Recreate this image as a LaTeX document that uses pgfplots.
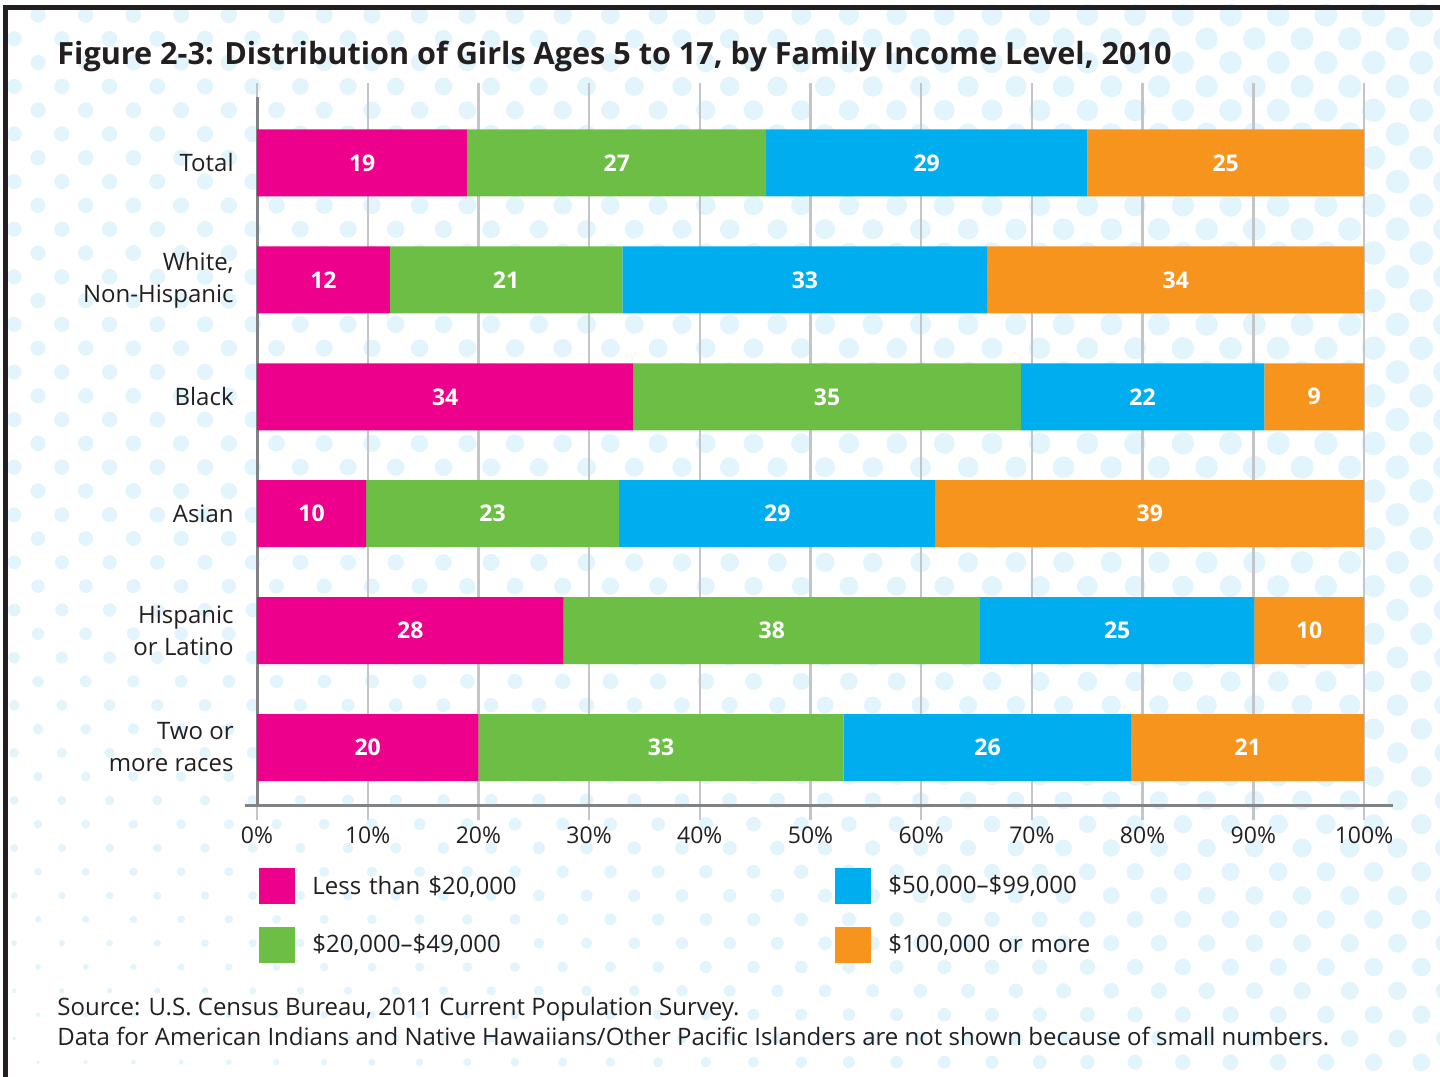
\documentclass[border=0pt]{standalone}
\usepackage{pgfplots}
\pgfplotsset{compat=1.18}
\usepackage{pgfplotstable}
\usepackage{fontspec}
\setmainfont{Open Sans}

\definecolor{cmag}{HTML}{EC008C}
\definecolor{cgreen}{HTML}{6DBE45}
\definecolor{ccyan}{HTML}{00AEEF}
\definecolor{corange}{HTML}{F7941D}
\definecolor{gridgray}{HTML}{C4C5C8}
\definecolor{axisgray}{HTML}{808285}
\definecolor{txt}{HTML}{231F20}
\definecolor{dotc}{HTML}{E3F5FC}

\pgfplotstableread{
y a la b lb c lc d ld
5 19 19 27 27 29 29 25 25
4 12 12 21 21 33 33 34 34
3 34 34 35 35 22 22 9 9
2 9.85 10 22.85 23 28.6 29 38.7 39
1 27.7 28 37.6 38 24.8 25 9.9 10
0 20 20 33 33 26 26 21 21
}\data

\begin{document}
\begin{tikzpicture}
\begin{scope}[x=0.5pt,y=0.5pt]
\path (0,0) rectangle (1440,1076);
\begin{scope}
\clip (0,0) rectangle (1440,1076);
\foreach \r in {0,...,45}{
  \foreach \c in {0,...,31}{
    \pgfmathsetmacro{\px}{38 + \c*47.7 - mod(\r,2)*23.85}
    \pgfmathsetmacro{\py}{15+\r*23.8}
    \pgfmathsetmacro{\X}{\px/1440}
    \pgfmathsetmacro{\B}{max(0,(\py-500)/576)}
    \pgfmathsetmacro{\rad}{max(0.8,(15+9*\X-12*(1-0.5*\X)*\B)/2)}
    \fill[dotc] (\px,1076-\py) circle[radius=\rad];
  }
}
\end{scope}
\draw[txt, line width=2.5pt] (5.5,-10) -- (5.5,1068.5) -- (1450,1068.5);

\node[anchor=base west, inner sep=0pt, text=txt, font=\bfseries\fontsize{15.3}{18}\selectfont] at (57,1011) {Figure 2-3: Distribution of Girls Ages 5 to 17, by Family Income Level, 2010};

\node[anchor=base west, inner sep=0pt, text=txt, font=\fontsize{12}{14}\selectfont] at (57,61) {Source: U.S. Census Bureau, 2011 Current Population Survey.};
\node[anchor=base west, inner sep=0pt, text=txt, font=\fontsize{12}{14}\selectfont] at (57,30) {Data for American Indians and Native Hawaiians/Other Pacific Islanders are not shown because of small numbers.};
\end{scope}

\begin{axis}[
  at={(128.5pt,135pt)}, anchor=south west,
  scale only axis, width=553.5pt, height=354.25pt,
  xbar stacked, bar width=33.5pt,
  xmin=0, xmax=100, ymin=-0.5, ymax=5.56,
  clip=false,
  axis line style={draw=none},
  tick align=outside,
  xtick={0,10,...,100},
  xticklabel={\pgfmathprintnumber{\tick}\%},
  /pgf/number format/assume math mode=true,
  xticklabel style={text=txt, font=\fontsize{11.5}{14}\selectfont},
  x tick style={color=gridgray, line width=1.2pt},
  major tick length=7pt,
  xmajorgrids, grid style={color=gridgray, line width=1.2pt},
  ytick={0,...,5},
  yticklabels={{Two or\\more races},{Hispanic\\or Latino},Asian,Black,{White,\\Non-Hispanic},Total},
  yticklabel style={align=right, text=txt, font=\fontsize{12}{16}\selectfont, inner xsep=0pt, xshift=-4.5pt},
  y tick style={draw=none},
  extra y ticks={0.5,1.5,2.5,3.5,4.5,5.5},
  extra y tick labels={},
  extra y tick style={grid=none, tick style={draw=axisgray, line width=1.5pt}, major tick length=6pt},
  nodes near coords,
  point meta=explicit symbolic,
  every node near coord/.append style={anchor=center, text=white, font=\bfseries\fontsize{11.5}{14}\selectfont},
  legend columns=2, transpose legend,
  legend image code/.code={\fill[#1] (0pt,-9pt) rectangle (18pt,9pt);},
  legend style={at={(0.0018,-0.0875)}, anchor=north west, draw=none, fill=none, inner sep=0pt,
     column sep=8.5pt, row sep=11.5pt, font=\fontsize{12}{15}\selectfont, text=txt,
     nodes={inner sep=0pt, text width=253pt, align=left}},
]
\addplot[fill=cmag, draw=none] table[x=a, y=y, meta=la] \data;
\addplot[fill=cgreen, draw=none] table[x=b, y=y, meta=lb] \data;
\addplot[fill=ccyan, draw=none] table[x=c, y=y, meta=lc] \data;
\addplot[fill=corange, draw=none] table[x=d, y=y, meta=ld] \data;
\legend{{Less than \$20,000}, {\$20,000--\$49,000}, {\$50,000--\$99,000}, {\$100,000 or more}}
\draw[axisgray, line width=1.5pt] (axis cs:0,-0.5) -- (axis cs:0,5.56);
\draw[axisgray, line width=1.5pt] (axis cs:-1.084,-0.5) -- (axis cs:102.62,-0.5);
\end{axis}

\pgfresetboundingbox
\path[use as bounding box] (0,0) rectangle (720pt,538pt);
\end{tikzpicture}
\end{document}
